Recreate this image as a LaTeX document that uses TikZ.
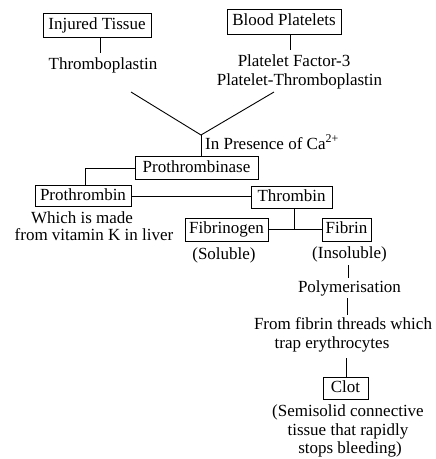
\documentclass[tikz,border=0pt]{standalone}
\usepackage{fontspec}
\setmainfont{Liberation Serif}
\tikzset{
  fnt/.style={font=\fontsize{17}{18.5}\selectfont},
  boxnode/.style={fnt, draw, line width=0.9pt, inner sep=0pt, text height=11.5pt, text depth=3.5pt},
  txt/.style={fnt, inner sep=0pt, text height=11.5pt, text depth=3.5pt},
  conn/.style={line width=0.9pt}
}
\begin{document}
\begin{tikzpicture}[x=1pt,y=-1pt]
\useasboundingbox (0,0) rectangle (436,459);
% boxes
\node[boxnode, minimum width=108pt, minimum height=24pt] (inj) at (97,25) {Injured Tissue};
\node[boxnode, minimum width=114pt, minimum height=25pt] (bp) at (284,21.5) {Blood Platelets};
\node[boxnode, minimum width=123pt, minimum height=23pt] (ptase) at (196.5,168) {Prothrombinase};
\node[boxnode, minimum width=96pt, minimum height=21pt] (pthr) at (83,196.3) {Prothrombin};
\node[boxnode, minimum width=81pt, minimum height=22pt] (thr) at (291.5,197) {Thrombin};
\node[boxnode, minimum width=83pt, minimum height=23pt] (fgen) at (226.5,229.5) {Fibrinogen};
\node[boxnode, minimum width=49pt, minimum height=23pt] (fib) at (346.5,229.5) {Fibrin};
\node[boxnode, minimum width=45pt, minimum height=22pt] (clot) at (345.5,388) {Clot};
% texts
\node[txt] (tp) at (103,65) {Thromboplastin};
\node[txt] (pf1) at (294,62) {Platelet Factor-3};
\node[txt] (pf2) at (299.5,81) {Platelet-Thromboplastin};
\node[txt, anchor=west] (ca) at (205,145) {In Presence of Ca\textsuperscript{2+}};
\node[txt] (wh1) at (82,219) {Which is made};
\node[txt] (wh2) at (94,236) {from vitamin K in liver};
\node[txt] (sol) at (224,255) {(Soluble)};
\node[txt] (insol) at (349.5,254) {(Insoluble)};
\node[txt] (poly) at (349.5,288) {Polymerisation};
\node[txt] (from1) at (343,325) {From fibrin threads which};
\node[txt] (from2) at (332,344) {trap erythrocytes};
\node[fnt, inner sep=0pt, align=center] (semi) at (348,431) {(Semisolid connective\\tissue that rapidly\\\hspace*{4pt}stops bleeding)};
% connectors
\coordinate (v) at (201,135);
\coordinate (vl) at (131,92);
\coordinate (vr) at (274,92);
\draw[conn] ([xshift=3.7pt]inj.south) -- ++(0,16);
\draw[conn] ([xshift=6pt]bp.south) -- ++(0,16);
\draw[conn] (vl) -- (v) -- (vr);
\draw[conn] (v) -- (v |- ptase.north);
\draw[conn] (ptase.west) -| ([xshift=2pt]pthr.north);
\draw[conn] (pthr.east) -- (pthr.east -| thr.west);
\draw[conn] ([xshift=2.5pt]thr.south) -- ([xshift=2.5pt]thr.south |- fgen.east);
\draw[conn] (fgen.east) -- (fib.west);
\coordinate (f1) at (348,265);
\coordinate (f2) at (348,278);
\draw[conn] (f1) -- (f2);
\coordinate (p1) at (347,298);
\coordinate (p2) at (347,315);
\draw[conn] (p1) -- (p2);
\coordinate (t1) at (346,358);
\draw[conn] (t1) -- (t1 |- clot.north);
\end{tikzpicture}
\end{document}
